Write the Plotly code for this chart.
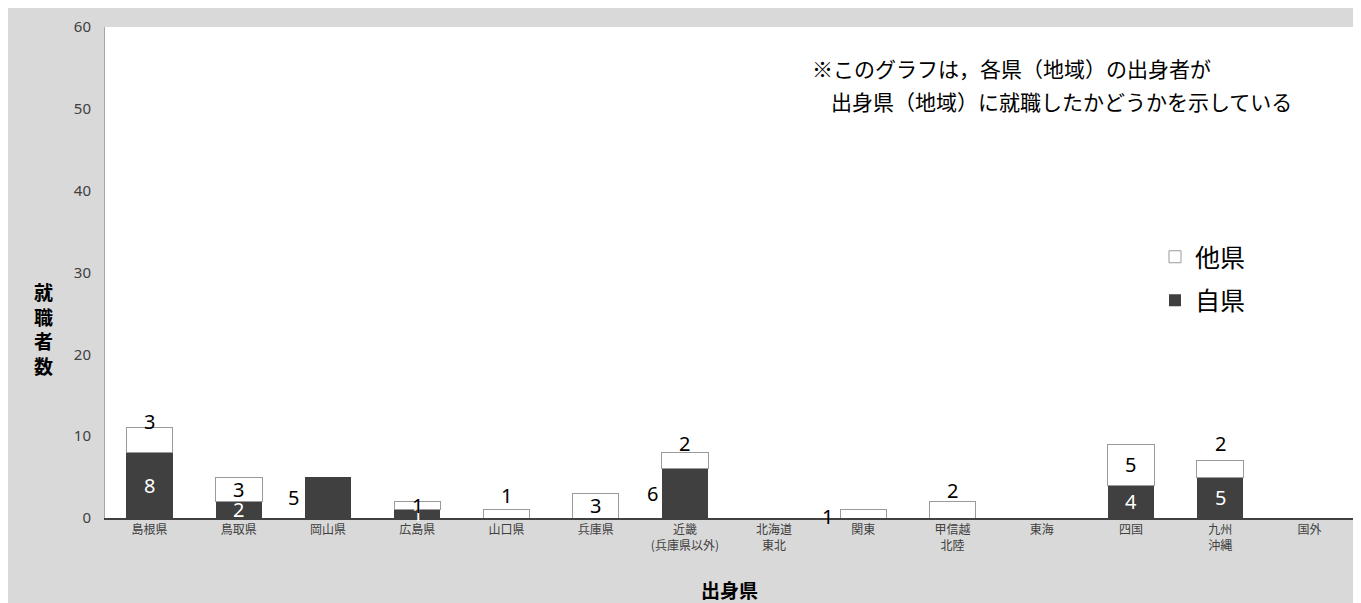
import plotly.graph_objects as go

# ---- data ----
categories = ["島根県", "鳥取県", "岡山県", "広島県", "山口県", "兵庫県",
              "近畿<br>(兵庫県以外)", "北海道<br>東北", "関東", "甲信越<br>北陸",
              "東海", "四国", "九州<br>沖縄", "国外"]
own_pref = [8, 2, 5, 1, 0, 0, 6, 0, 0, 0, 0, 4, 5, 0]     # 自県
other_pref = [3, 3, 0, 1, 1, 3, 2, 0, 1, 2, 0, 5, 2, 0]   # 他県
y_ticks = [0, 10, 20, 30, 40, 50, 60]

# ---- label placement style (mode, xshift px, yshift px) ----
own_label_style = {2: ("left", -35, 0), 6: ("left", -32, 0)}
other_label_style = {0: ("top", 0, 3), 4: ("top", 0, 11), 6: ("top", 0, 6),
                     8: ("left", -36, -3), 9: ("top", 0, 8), 12: ("top", 0, 14)}

OFF = 8  # page body margin
W, H = 1353, 595
ML, MR, MT, MB = 97, 7, 19, 85
PW, PH = W - ML - MR, H - MT - MB

def px_x(p):  # page pixel -> paper
    return (p - OFF - ML) / PW

def px_y(p):
    return (H - MB - (p - OFF)) / PH

DARK = "#404040"
CJK = "Noto Sans CJK JP"
NUM = "Noto Sans"

fig = go.Figure()
fig.add_trace(go.Bar(
    name="自県", x=categories, y=[v if v else None for v in own_pref],
    marker=dict(color=DARK, line=dict(width=0)), width=0.52,
    legendgroup="own", legendrank=2, hoverinfo="skip"))
fig.add_trace(go.Bar(
    name="他県", x=categories, y=[v if v else None for v in other_pref],
    marker=dict(color="white", line=dict(color="#9a9a9a", width=1)), width=0.52,
    legendgroup="other", legendrank=1, hoverinfo="skip"))

annotations = []

def add_label(i, base, val, style, color_inside):
    if not val:
        return
    mode, dx, dy = style if style else ("mid", 0, 0)
    if mode == "top":
        y, yanchor, color = base + val, "bottom", "black"
        dy = dy - 12
    else:
        y, yanchor, color = base + val / 2, "middle", color_inside
    if mode == "left":
        color = "black"
    annotations.append(dict(
        x=categories[i], y=y, xref="x", yref="y", text=str(val), showarrow=False,
        xshift=dx, yshift=dy, yanchor=yanchor,
        font=dict(family=NUM, size=20, color=color)))

for i in range(len(categories)):
    add_label(i, 0, own_pref[i], own_label_style.get(i), "white")
    add_label(i, own_pref[i], other_pref[i], other_label_style.get(i), "black")

# note text
annotations.append(dict(
    x=px_x(810), y=px_y(68), xref="paper", yref="paper", xanchor="left", yanchor="middle",
    text="※このグラフは，各県（地域）の出身者が", showarrow=False,
    font=dict(family=CJK, size=21, color="black")))
annotations.append(dict(
    x=px_x(829), y=px_y(101), xref="paper", yref="paper", xanchor="left", yanchor="middle",
    text="出身県（地域）に就職したかどうかを示している", showarrow=False,
    font=dict(family=CJK, size=21, color="black")))
# axis titles
annotations.append(dict(
    x=px_x(43), y=px_y(328), xref="paper", yref="paper", xanchor="center", yanchor="middle",
    text="<b>就<br>職<br>者<br>数</b>", showarrow=False,
    font=dict(family=CJK, size=19, color="black")))
annotations.append(dict(
    x=0.5, y=px_y(589), xref="paper", yref="paper", xanchor="center", yanchor="middle",
    text="<b>出身県</b>", showarrow=False,
    font=dict(family=CJK, size=19, color="black")))

fig.update_layout(
    width=W, height=H,
    margin=dict(l=ML, r=MR, t=MT, b=MB, pad=0),
    barmode="stack",
    paper_bgcolor="#d9d9d9", plot_bgcolor="white",
    showlegend=True,
    legend=dict(x=px_x(1155), y=px_y(234), xanchor="left", yanchor="top",
                traceorder="grouped", tracegroupgap=8,
                bgcolor="rgba(0,0,0,0)",
                font=dict(family=CJK, size=25, color="black")),
    annotations=annotations,
    xaxis=dict(showgrid=False, showline=True, linecolor=DARK, linewidth=2,
               ticks="", tickfont=dict(family=CJK, size=12, color="#404040"),
               zeroline=False, fixedrange=True),
    yaxis=dict(range=[0, 60], tickvals=y_ticks, showgrid=False, showline=True,
               linecolor="#a6a6a6", linewidth=1, ticks="", ticklabelstandoff=10,
               tickfont=dict(family=NUM, size=15, color="#404040"),
               zeroline=False, fixedrange=True),
)

fig.write_html("out.html")
